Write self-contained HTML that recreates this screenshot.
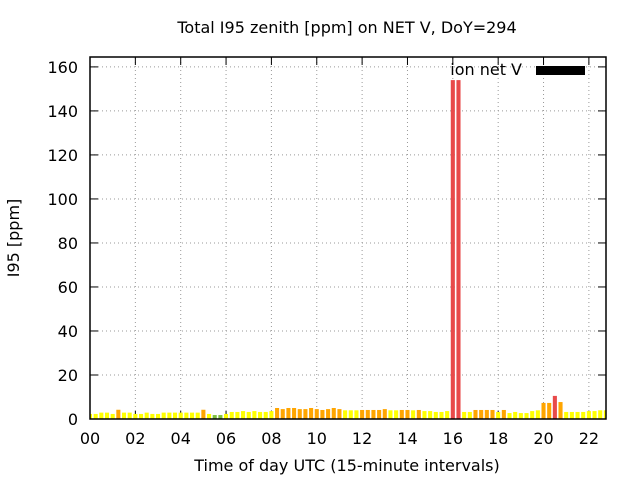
<!DOCTYPE html>
<html><head><meta charset="utf-8"><style>
body{margin:0;background:#fff;}
svg text{font-family:"DejaVu Sans","Liberation Sans",sans-serif;fill:#000;}
</style></head><body>
<svg id="chart" width="640" height="480" xmlns="http://www.w3.org/2000/svg">
<rect width="640" height="480" fill="#fff"/>
<text x="347" y="33" font-size="16" text-anchor="middle">Total I95 zenith [ppm] on NET V, DoY=294</text>
<text x="347" y="471" font-size="16" text-anchor="middle">Time of day UTC (15-minute intervals)</text>
<text transform="translate(19,238) rotate(-90)" font-size="16" text-anchor="middle">I95 [ppm]</text>
<g id="grid"></g><g id="ticks"></g><g id="bars"></g><g id="axes"></g>
<text x="522" y="75" font-size="16" text-anchor="end">ion net V</text>
<rect x="536" y="66" width="49" height="9" fill="#000"/>
</svg>
<script>
const yTicks=[0,20,40,60,80,100,120,140,160];
const xTicks=[0,2,4,6,8,10,12,14,16,18,20,22];
const xTickLabels=["00","02","04","06","08","10","12","14","16","18","20","22"];
const values=[2.3,2.3,2.9,2.9,2.3,4.2,2.9,2.9,2.3,2.3,2.9,2.3,2.3,2.9,2.9,2.9,2.9,2.9,2.9,2.9,
4.2,2.3,1.8,1.8,2.3,3.2,3.2,3.6,3.2,3.6,3.2,3.2,3.6,5.0,4.5,5.0,5.0,4.5,4.5,5.0,
4.5,4.1,4.5,5.0,4.5,3.95,3.95,3.95,4.1,4.1,4.1,4.1,4.5,3.95,3.95,4.1,4.1,3.95,4.1,3.6,
3.6,3.2,3.2,3.6,154,154,3.2,3.2,4.1,4.1,4.1,4.1,3.2,4.1,2.7,3.2,2.7,2.7,3.6,3.95,
7.3,7.3,10.5,7.7,3.2,3.2,3.2,3.2,3.6,3.6,3.95,3.95];
const X0=90,X1=606,Y0=419,Y1=57,HMIN=0,HMAX=22.755,VMAX=164.5;
const sx=h=>X0+(h-HMIN)/(HMAX-HMIN)*(X1-X0);
const sy=v=>Y0-v/VMAX*(Y0-Y1);
const NS="http://www.w3.org/2000/svg";
function mk(t,a,p){const e=document.createElementNS(NS,t);for(const k in a)e.setAttribute(k,a[k]);p.appendChild(e);return e;}
const grid=document.getElementById('grid'),ticks=document.getElementById('ticks'),bars=document.getElementById('bars'),axes=document.getElementById('axes');
yTicks.forEach(v=>{const y=sy(v);
 if(v>0){const l=mk('line',{x1:X0,x2:X1,y1:y,y2:y,stroke:'#999','stroke-dasharray':'1,3'},grid);
 
 }
 mk('line',{x1:X0,x2:X0+8,y1:y,y2:y,stroke:'#000'},ticks);
 mk('line',{x1:X1,x2:X1-8,y1:y,y2:y,stroke:'#000'},ticks);
 const t=mk('text',{x:X0-12,y:y+6,'font-size':16,'text-anchor':'end'},axes);t.textContent=v;
 
 
});
xTicks.forEach((h,i)=>{const x=sx(h);
 if(h>0){const l=mk('line',{x1:x,x2:x,y1:Y0,y2:Y1,stroke:'#999','stroke-dasharray':'1,3'},grid);
 
 }
 mk('line',{x1:x,x2:x,y1:Y0,y2:Y0-8,stroke:'#000'},ticks);
 mk('line',{x1:x,x2:x,y1:Y1,y2:Y1+8,stroke:'#000'},ticks);
 const t=mk('text',{x:x,y:Y0+25,'font-size':16,'text-anchor':'middle'},axes);t.textContent=xTickLabels[i];
 
 
});
function col(v){return v<2?'#7fbf3f':v<4?'#ffff00':v<10?'#ffa500':'#e84a4a';}
const bw=(sx(0.25)-sx(0))*0.72;
values.forEach((v,i)=>{const h=i*0.25;let xa=sx(h)-bw/2,xb=sx(h)+bw/2;
 xa=Math.max(xa,X0);xb=Math.min(xb,X1);
 const r=mk('rect',{x:xa,y:sy(v),width:Math.max(0,xb-xa),height:Y0-sy(v),fill:col(v)},bars);
 
 
});
const f=mk('rect',{x:X0,y:Y1,width:X1-X0,height:Y0-Y1,fill:'none',stroke:'#000','stroke-width':1.5},axes);


</script>
</body></html>
